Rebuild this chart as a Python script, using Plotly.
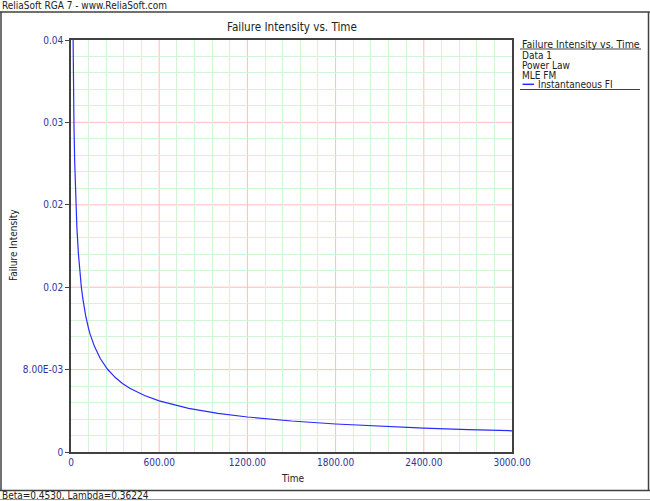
import plotly.graph_objects as go

# Data (Instantaneous failure intensity vs time)
time_vals = [10, 12, 15, 17, 20, 25, 30, 35, 40, 50, 60, 70, 80, 100, 120, 130, 160,
             200, 250, 300, 350, 400, 500, 600, 800, 1000, 1200, 1500, 1800, 2100,
             2400, 2700, 3000]
fi_vals = [0.04657, 0.04218, 0.03732, 0.03486, 0.03187, 0.02820, 0.02552, 0.02346,
           0.02181, 0.01931, 0.01748, 0.01606, 0.01493, 0.01321, 0.01196, 0.01144,
           0.01023, 0.00905, 0.00801, 0.00725, 0.00666, 0.00619, 0.00548, 0.00496,
           0.00423, 0.00375, 0.00340, 0.00301, 0.00272, 0.00250, 0.00232, 0.00218,
           0.00206]

x_tickvals = [0, 600, 1200, 1800, 2400, 3000]
x_ticktext = ["0", "600.00", "1200.00", "1800.00", "2400.00", "3000.00"]
y_tickvals = [0, 0.008, 0.016, 0.024, 0.032, 0.04]
y_ticktext = ["0", "8.00E-03", "0.02", "0.02", "0.03", "0.04"]

legend_lines = ["Data 1", "Power Law", "MLE FM"]
series_name = "Instantaneous FI"

W, H = 650, 501
L, R, T, B = 71, 512, 40, 452
FONT = "Tahoma, 'DejaVu Sans Condensed', 'DejaVu Sans', sans-serif"
TICKCOL = "#333399"
TXT = "#222222"
BORDER = "#404040"
MAJOR_GRID = "#ffbcbc"
MINOR_GRID = "#d4f5d4"

# minor grid positions: 5 subdivisions between major ticks (excluding majors)
x_minor = [a + (b - a) * k / 5 for a, b in zip(x_tickvals[:-1], x_tickvals[1:]) for k in range(1, 5)]
y_minor = [a + (b - a) * k / 5 for a, b in zip(y_tickvals[:-1], y_tickvals[1:]) for k in range(1, 5)]


def px(x):
    return (x - L) / (R - L)


def py(y):
    return (B - y) / (B - T)


fig = go.Figure()
fig.add_trace(go.Scatter(x=time_vals, y=fi_vals, mode="lines",
                         line=dict(color="#2b2bff", width=1.2),
                         name=series_name, showlegend=False))

fig.update_layout(
    width=W, height=H,
    margin=dict(l=L, r=W - R, t=T, b=H - B, pad=0),
    paper_bgcolor="white", plot_bgcolor="white",
    font=dict(family=FONT, size=10, color=TXT),
    showlegend=False,
    xaxis=dict(range=[0, 3000], tickmode="array", tickvals=x_tickvals, ticktext=x_ticktext,
               tickfont=dict(color=TICKCOL, size=10, family=FONT),
               showgrid=False,
               minor=dict(tickmode="array", tickvals=x_minor, showgrid=True,
                          gridcolor=MINOR_GRID, gridwidth=1, ticks=""),
               showline=True, linecolor=BORDER, linewidth=1.5, mirror=True,
               ticks="", zeroline=False, fixedrange=True),
    yaxis=dict(range=[0, 0.04], tickmode="array", tickvals=y_tickvals, ticktext=y_ticktext,
               tickfont=dict(color=TICKCOL, size=10, family=FONT),
               showgrid=False,
               minor=dict(tickmode="array", tickvals=y_minor, showgrid=True,
                          gridcolor=MINOR_GRID, gridwidth=1, ticks=""),
               showline=True, linecolor=BORDER, linewidth=1.5, mirror=True,
               ticks="outside", ticklen=4, tickcolor=BORDER,
               zeroline=False, fixedrange=True),
)

shapes = []
# major grid lines (red), drawn below the data
for v in x_tickvals[1:-1]:
    shapes.append(dict(type="line", xref="x", yref="paper", x0=v, x1=v, y0=0, y1=1,
                       layer="below", line=dict(color=MAJOR_GRID, width=1)))
for v in y_tickvals[1:-1]:
    shapes.append(dict(type="line", xref="paper", yref="y", x0=0, x1=1, y0=v, y1=v,
                       layer="below", line=dict(color=MAJOR_GRID, width=1)))


def hline(y, x0, x1, color=BORDER, w=1.5):
    shapes.append(dict(type="line", xref="paper", yref="paper",
                       x0=px(x0), x1=px(x1), y0=py(y), y1=py(y),
                       line=dict(color=color, width=w)))


def vline(x, y0, y1, color=BORDER, w=1.5):
    shapes.append(dict(type="line", xref="paper", yref="paper",
                       x0=px(x), x1=px(x), y0=py(y0), y1=py(y1),
                       line=dict(color=color, width=w)))


# outer frame
hline(12, 0, 650)
hline(490.5, 0, 650)
hline(499.5, 0, 650, color="#999999", w=1)
vline(1, 12, 490.5)
vline(648.5, 12, 490.5)
# legend underlines
hline(49, 520, 641, w=1)
hline(89.5, 520, 640, w=1)
# legend series sample
shapes.append(dict(type="line", xref="paper", yref="paper",
                   x0=px(522.5), x1=px(534), y0=py(84.3), y1=py(84.3),
                   line=dict(color="#2b2bff", width=1.5)))
fig.update_layout(shapes=shapes)

ann = []


def text(x, y, s, xanchor="left", size=10, color=TXT, angle=0):
    ann.append(dict(xref="paper", yref="paper", x=px(x), y=py(y), text=s,
                    showarrow=False, xanchor=xanchor, yanchor="middle",
                    textangle=angle, borderpad=0,
                    font=dict(family=FONT, size=size, color=color)))


text(1, 5.5, "ReliaSoft RGA 7 - www.ReliaSoft.com")
text(291.5, 27, "Failure Intensity vs. Time", xanchor="center", size=11.6)
text(521, 43.5, "Failure Intensity vs. Time", size=10.5)
for i, s in enumerate(legend_lines):
    text(521, 55.5 + i * 9.8, s)
text(537, 84.5, series_name)
text(292, 478, "Time", xanchor="center")
text(13, 245, "Failure Intensity", xanchor="center", angle=-90)
text(1, 495, "Beta=0.4530, Lambda=0.36224")
fig.update_layout(annotations=ann)

fig.write_html("out.html", config={"displayModeBar": False},
               post_script="document.body.style.margin='0';document.body.style.overflow='hidden';")
